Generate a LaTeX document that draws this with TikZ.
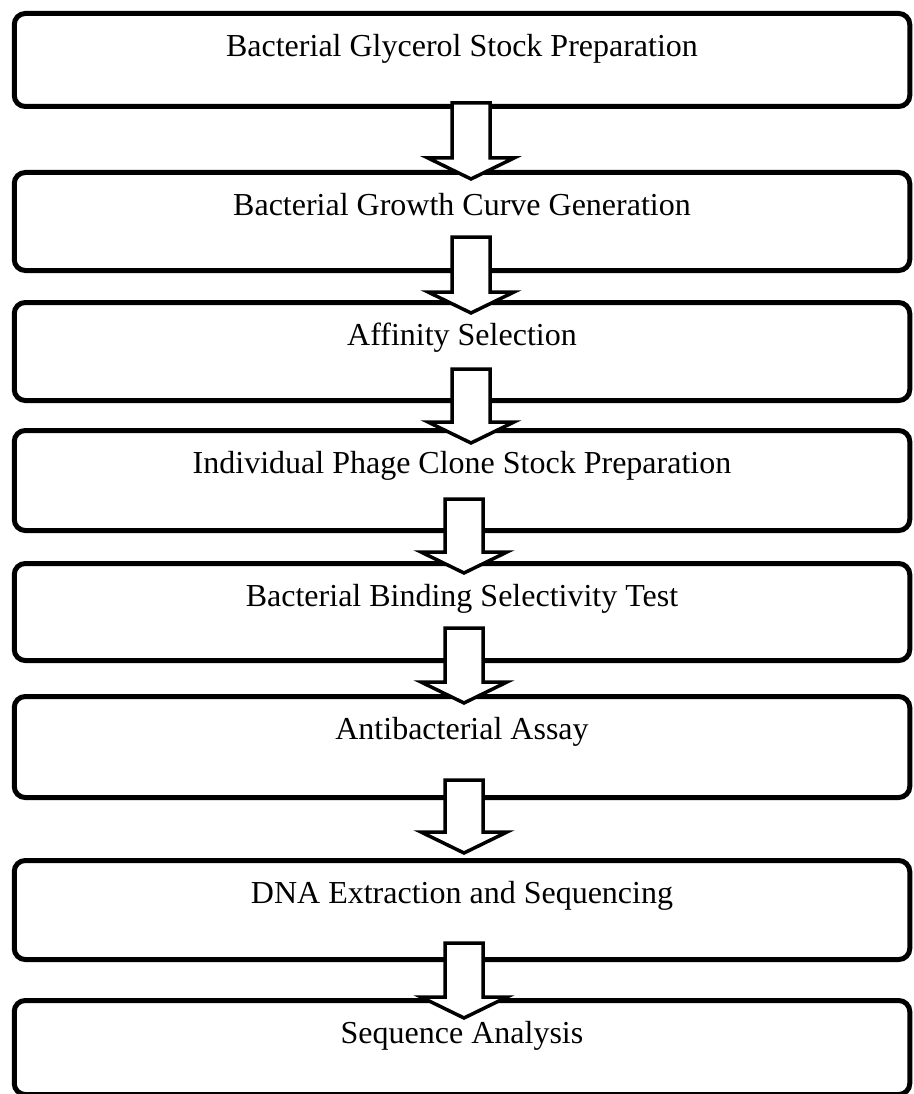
\documentclass[tikz,border=0pt]{standalone}
\usepackage{fontspec}
\setmainfont{Liberation Serif}
\usetikzlibrary{calc}
\tikzset{stepbox/.style={draw=black,line width=5pt,rounded corners=11pt,fill=white,anchor=north,minimum width=895.5pt,inner xsep=0pt,inner ysep=0pt,text height=43pt,text depth=54pt,font=\fontsize{32}{38}\selectfont},barrow/.style={draw=black,fill=white,line width=3.5pt,line join=miter}}
% block arrow: from node, to node, x shift, shaft top offset, tip offset
\newcommand{\flowarrow}[5]{\draw[barrow]($(#1.south)+(#3-19,#4)$)--($(#2.north)+(#3-19,#5-21)$)--($(#2.north)+(#3-43,#5-21)$)--($(#2.north)+(#3,#5)$)--($(#2.north)+(#3+43,#5-21)$)--($(#2.north)+(#3+19,#5-21)$)--($(#1.south)+(#3+19,#4)$)--cycle;}

\begin{document}
\begin{tikzpicture}[x=1pt,y=-1pt]
\useasboundingbox(0,0)rectangle(913,1094);
\node[stepbox,text depth=50pt](glyc)at(462,11){Bacterial Glycerol Stock Preparation};
\node[stepbox,text depth=55pt](growth)at(462,170){Bacterial Growth Curve Generation};
\node[stepbox,text depth=55pt](affin)at(462,300){Affinity Selection};
\node[stepbox,text depth=57pt](clone)at(462,428){Individual Phage Clone Stock Preparation};
\node[stepbox](binding)at(462,561){Bacterial Binding Selectivity Test};
\node[stepbox,text depth=58pt](assay)at(462,694){Antibacterial Assay};
\node[stepbox,text depth=56pt](dna)at(462,858){DNA Extraction and Sequencing};
\node[stepbox,text depth=51pt](seq)at(462,998){Sequence Analysis};
\flowarrow{glyc}{growth}{9}{-6}{9}
\flowarrow{growth}{affin}{9}{-36}{13}
\flowarrow{affin}{clone}{9}{-34}{15}
\flowarrow{clone}{binding}{2}{-34}{12}
\flowarrow{binding}{assay}{2}{-35}{9}
\flowarrow{assay}{dna}{2}{-20}{-5}
\flowarrow{dna}{seq}{2}{-19}{20}
\end{tikzpicture}
\end{document}
